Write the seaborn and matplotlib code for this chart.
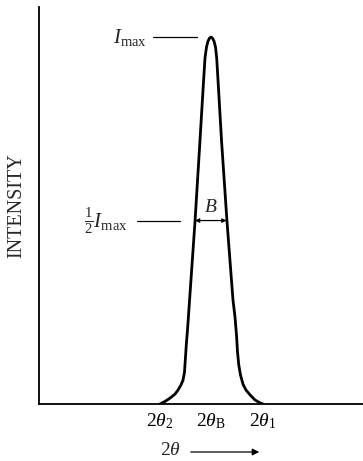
import matplotlib
matplotlib.use("Agg")
import matplotlib.pyplot as plt
import seaborn as sns
import pandas as pd

# Diffraction line profile (2-theta in arbitrary units, intensity relative to I_max)
two_theta = [12.1, 12.6, 13.1, 13.6, 13.9, 14.2, 14.4, 14.55, 14.63, 14.73, 14.85,
             15.6, 16.1, 16.43, 16.6, 16.75, 16.9, 17.05, 17.2, 17.35, 17.5, 17.65,
             17.77, 17.93, 18.25, 18.8, 19.4, 19.6, 19.75, 19.85, 19.98, 20.15,
             20.4, 20.7, 21.1, 21.6, 22.1, 22.4]
intensity = [0.0, 0.007, 0.016, 0.027, 0.038, 0.052, 0.065, 0.087, 0.120, 0.161, 0.202,
             0.497, 0.719, 0.869, 0.943, 0.973, 0.989, 0.997, 1.0, 0.997, 0.989, 0.973,
             0.943, 0.869, 0.719, 0.497, 0.283, 0.237, 0.188, 0.142, 0.106, 0.079,
             0.054, 0.038, 0.025, 0.011, 0.003, 0.0]

tick_pos = [12.1, 17.2, 22.4]
tick_labels = [r"$2\theta_2$", r"$2\theta_{\mathrm{B}}$", r"$2\theta_1$"]

peak_max = 1.0
half_max = 0.5
b_left, b_right = 15.6, 18.75

sns.set_style("white")
plt.rcParams["font.family"] = ["Liberation Serif", "DejaVu Serif"]
plt.rcParams["mathtext.fontset"] = "custom"
plt.rcParams["mathtext.rm"] = "Liberation Serif"
plt.rcParams["mathtext.it"] = "Liberation Serif:italic"
plt.rcParams["mathtext.bf"] = "Liberation Serif:bold"

fig = plt.figure(figsize=(3.63, 4.61), dpi=100)
ax = fig.add_axes([39 / 363, 57 / 461, 324 / 363, 397 / 461])

df = pd.DataFrame({"two_theta": two_theta, "intensity": intensity})
sns.lineplot(data=df, x="two_theta", y="intensity", color="black", lw=2.0,
             estimator=None, sort=False, ax=ax)
ax.lines[0].set_solid_joinstyle("round")

ax.set_xlim(0, 32.4)
ax.set_ylim(0, 1.082)

for side in ["top", "right"]:
    ax.spines[side].set_visible(False)
for side in ["left", "bottom"]:
    ax.spines[side].set_linewidth(1.3)
    ax.spines[side].set_color("black")

ax.set_yticks([])
ax.set_xticks(tick_pos)
ax.set_xticklabels(tick_labels, fontsize=14)
ax.tick_params(axis="x", direction="in", length=10, width=0.9, pad=5, colors="black")
ax.set_xlabel("")
ax.set_ylabel("INTENSITY", fontsize=14.5, labelpad=9)

# I_max leader line and label
ax.plot([11.4, 15.8], [peak_max, peak_max], color="black", lw=0.9)
ax.text(10.8, peak_max, r"$I_{\mathrm{max}}$", fontsize=15, ha="right", va="center")

# Half-maximum leader line and label
ax.plot([9.8, 14.1], [half_max, half_max], color="black", lw=0.9)
ax.text(8.9, half_max, r"$\frac{1}{2}I_{\mathrm{max}}$", fontsize=15, ha="right", va="center")

# Breadth B at half maximum
ax.annotate("", xy=(b_left, half_max), xytext=(b_right, half_max),
            arrowprops=dict(arrowstyle="<|-|>", color="black", lw=0.9,
                            mutation_scale=6, shrinkA=0, shrinkB=0))
ax.text((b_left + b_right) / 2, 0.535, r"$B$", fontsize=14, ha="center", va="center")

# 2-theta direction label with arrow
fig.text(170 / 363, 1 - 450 / 461, r"$2\theta$", fontsize=14, ha="center", va="center")
fig.add_artist(matplotlib.patches.FancyArrowPatch(
    (188 / 363, 1 - 452 / 461), (262 / 363, 1 - 452 / 461),
    transform=fig.transFigure, arrowstyle="-|>", mutation_scale=10,
    color="black", lw=0.9))

fig.savefig("out.png", dpi=100, facecolor="white")
